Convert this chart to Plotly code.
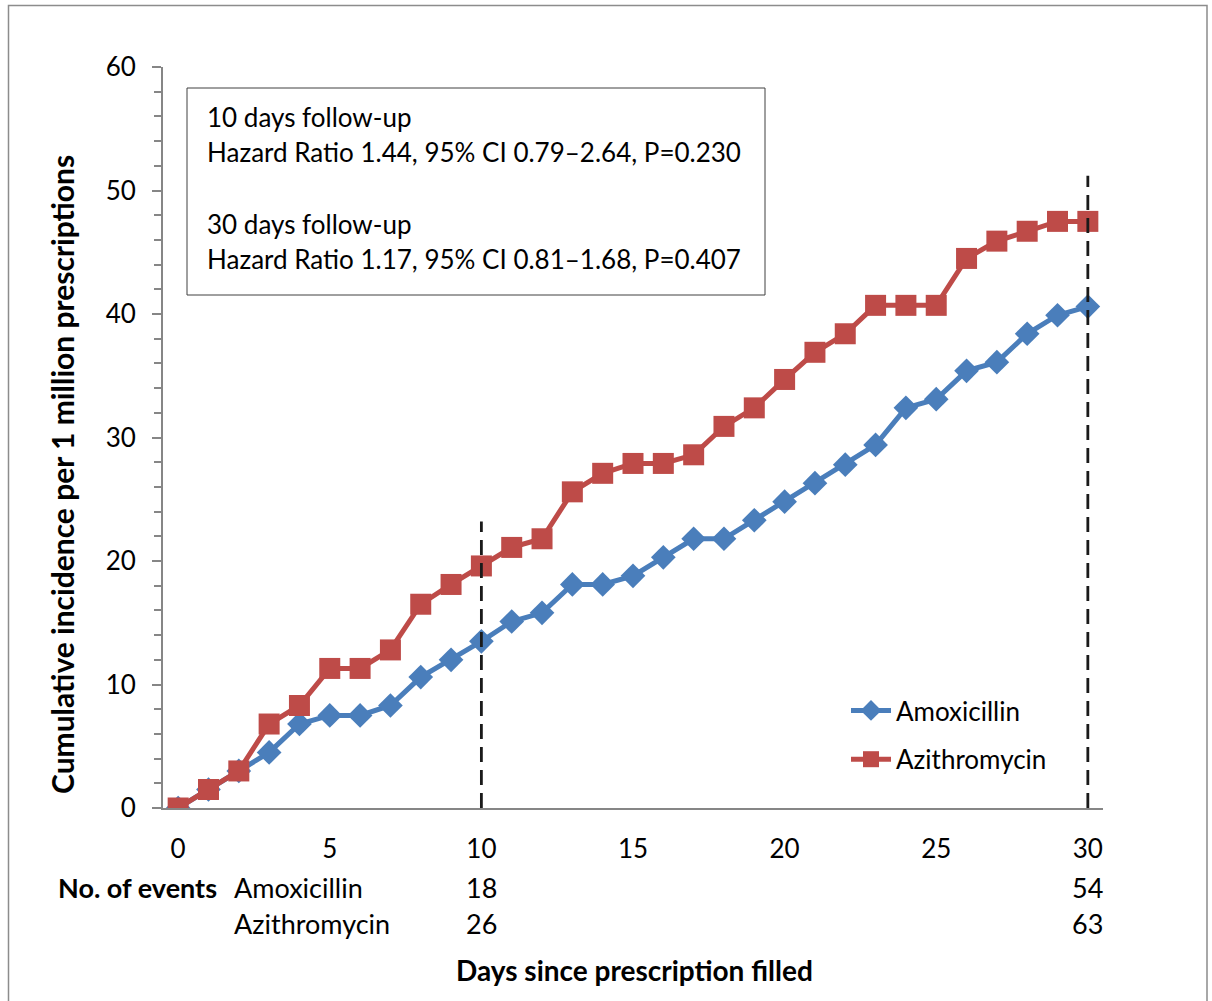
import plotly.graph_objects as go

days = list(range(31))
amoxicillin = [0, 1.5, 3.0, 4.5, 6.8, 7.5, 7.5, 8.3, 10.6, 12.0, 13.5, 15.1, 15.8, 18.1, 18.1, 18.8,
               20.3, 21.8, 21.8, 23.3, 24.8, 26.3, 27.8, 29.4, 32.4, 33.1, 35.4, 36.1, 38.4, 39.9, 40.6]
azithromycin = [0, 1.5, 3.0, 6.8, 8.3, 11.3, 11.3, 12.8, 16.5, 18.1, 19.6, 21.1, 21.8, 25.6, 27.1, 27.9,
                27.9, 28.6, 30.9, 32.4, 34.7, 36.9, 38.4, 40.7, 40.7, 40.7, 44.5, 45.9, 46.7, 47.5, 47.5]
followup_days = [10, 30]
followup_tops = [23.2, 51.2]
events_amox = ["18", "54"]
events_azi = ["26", "63"]
x_ticks = [0, 5, 10, 15, 20, 25, 30]
y_ticks = [0, 10, 20, 30, 40, 50, 60]
box_lines = ["10 days follow-up",
             "Hazard Ratio 1.44, 95% CI 0.79\u20132.64, P=0.230",
             "30 days follow-up",
             "Hazard Ratio 1.17, 95% CI 0.81\u20131.68, P=0.407"]

FONT = "Lato"
BLUE = "#4A7EBB"
RED = "#BE4B48"
GREY = "#868686"

W, H = 1212, 1001
L, R, T, B = 163, 109, 67, 193
PH = H - T - B
PW = W - L - R

def py(p):
    return (H - B - p) / PH

def px(p):
    return (p - L) / PW

fig = go.Figure()
fig.add_trace(go.Scatter(x=days, y=amoxicillin, mode="lines+markers", name="Amoxicillin",
                         legendgroup="a",
                         line=dict(color=BLUE, width=5),
                         marker=dict(symbol="diamond", size=19, color=BLUE)))
fig.add_trace(go.Scatter(x=days, y=azithromycin, mode="lines+markers", name="Azithromycin",
                         legendgroup="b",
                         line=dict(color=RED, width=5),
                         marker=dict(symbol="square", size=21, color=RED)))

shapes = []
for d, top in zip(followup_days, followup_tops):
    shapes.append(dict(type="line", xref="x", yref="y", x0=d, x1=d, y0=0, y1=top,
                       line=dict(color="#1a1a1a", width=2.8, dash="15px,8px"), layer="above"))
# annotation box
shapes.append(dict(type="rect", xref="paper", yref="paper", x0=px(187), x1=px(765), y0=py(295), y1=py(88),
                   line=dict(color="#404040", width=1), fillcolor="white", layer="below"))
# outer border
shapes.append(dict(type="rect", xref="paper", yref="paper", x0=px(8.5), x1=px(1207), y0=py(1010), y1=py(5.5),
                   line=dict(color="#8c8c8c", width=1.5), layer="below"))

ann = []
for txt, yp in zip(box_lines, [117, 152, 224, 259]):
    ann.append(dict(text=txt, xref="paper", yref="paper", x=px(205), y=py(yp), xanchor="left", yanchor="middle",
                    showarrow=False, font=dict(family=FONT, size=26, color="black")))

row1, row2 = 888, 924
TS = 27
ann.append(dict(text="<b>No. of events</b>", xref="paper", yref="paper", x=px(219), y=py(row1), xanchor="right",
                yanchor="middle", showarrow=False, font=dict(family=FONT, size=TS, color="black")))
ann.append(dict(text="Amoxicillin", xref="paper", yref="paper", x=px(232), y=py(row1), xanchor="left",
                yanchor="middle", showarrow=False, font=dict(family=FONT, size=TS, color="black")))
ann.append(dict(text="Azithromycin", xref="paper", yref="paper", x=px(232), y=py(row2), xanchor="left",
                yanchor="middle", showarrow=False, font=dict(family=FONT, size=TS, color="black")))
for d, a, z in zip(followup_days, events_amox, events_azi):
    ann.append(dict(text=a, xref="x", yref="paper", x=d, y=py(row1), xanchor="center", yanchor="middle",
                    showarrow=False, font=dict(family=FONT, size=TS, color="black")))
    ann.append(dict(text=z, xref="x", yref="paper", x=d, y=py(row2), xanchor="center", yanchor="middle",
                    showarrow=False, font=dict(family=FONT, size=TS, color="black")))
ann.append(dict(text="<b>Days since prescription filled</b>", xref="paper", yref="paper", x=px(634), y=py(970),
                xanchor="center", yanchor="middle", showarrow=False, font=dict(family=FONT, size=28, color="black")))
ann.append(dict(text="<b>Cumulative incidence per 1 million prescriptions</b>", xref="paper", yref="paper",
                x=px(62), y=py(475), xanchor="center", yanchor="middle", textangle=-90, showarrow=False,
                font=dict(family=FONT, size=30, color="black")))

fig.update_layout(
    width=W, height=H,
    margin=dict(l=L, r=R, t=T, b=B, autoexpand=False),
    paper_bgcolor="white", plot_bgcolor="white",
    font=dict(family=FONT, size=26, color="black"),
    shapes=shapes, annotations=ann,
    showlegend=True,
    legend=dict(x=px(846), y=py(687), xanchor="left", yanchor="top", bgcolor="rgba(0,0,0,0)",
                font=dict(family=FONT, size=26, color="black"), tracegroupgap=12, itemwidth=40,
                traceorder="grouped"),
    xaxis=dict(range=[-0.5, 30.5], tickvals=x_ticks, showgrid=False, zeroline=False,
               showline=True, linecolor=GREY, linewidth=2, ticks="", ticklabelstandoff=17,
               tickfont=dict(family=FONT, size=26, color="black")),
    yaxis=dict(range=[0, 60], tickvals=y_ticks, showgrid=False, zeroline=False,
               showline=True, linecolor=GREY, linewidth=2, ticks="outside", ticklen=9, tickwidth=2,
               tickcolor=GREY, ticklabelstandoff=11,
               minor=dict(dtick=2, ticks="outside", ticklen=7, tickwidth=1.5, tickcolor=GREY),
               tickfont=dict(family=FONT, size=26, color="black")),
)

fig.write_html("out.html")
